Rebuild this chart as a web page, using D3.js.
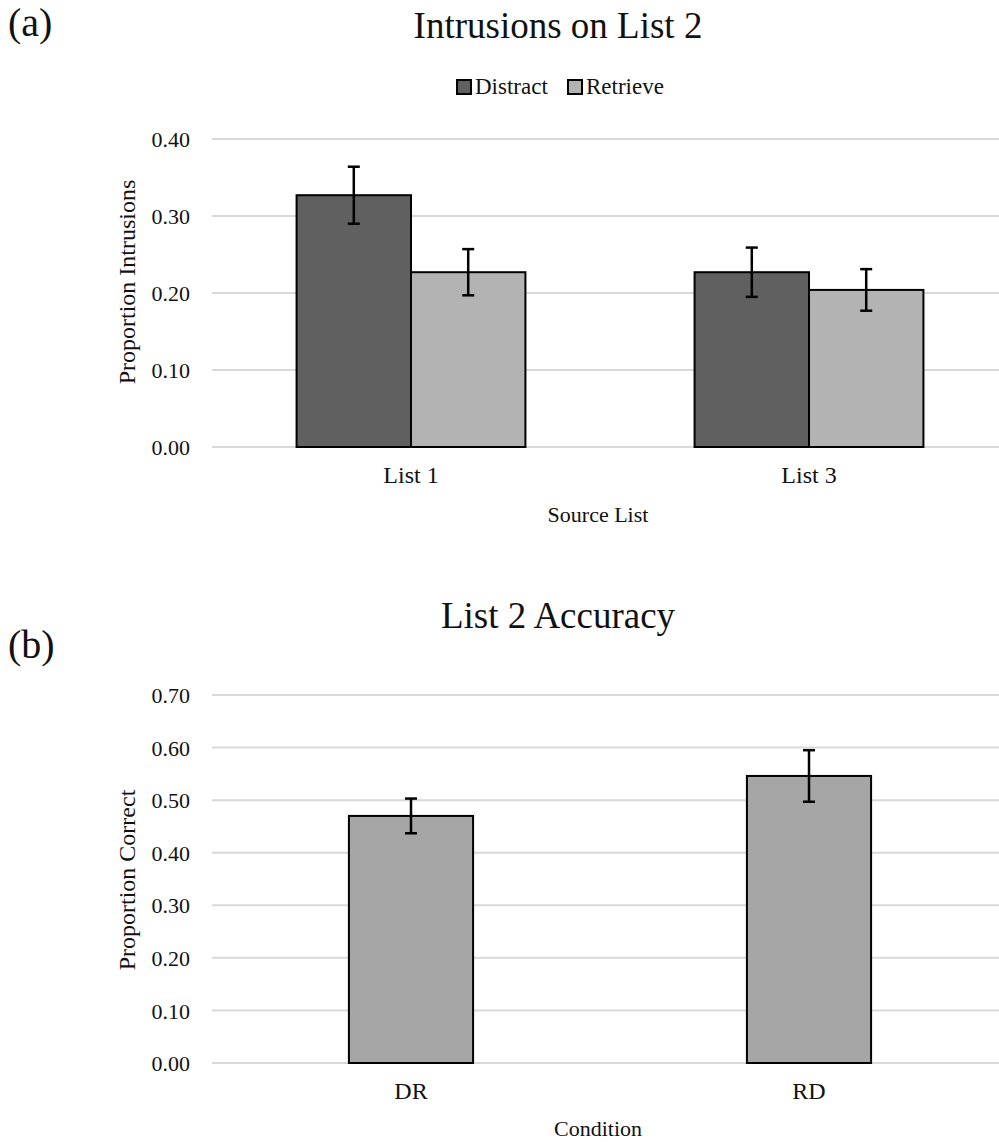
<!DOCTYPE html>
<html>
<head>
<meta charset="utf-8">
<script src="https://cdn.jsdelivr.net/npm/d3@7"></script>
<style>
  body { margin: 0; background: #fff; }
  svg text { font-family: "Liberation Serif", "Times New Roman", serif; fill: #111; }
  .tick text { font-size: 22px; }
</style>
</head>
<body>
<div id="chart"></div>
<script>
// panel (a)
const sourceLists = ['List 1', 'List 3'];
const seriesNames = ['Distract', 'Retrieve'];
const distractVals = [0.327, 0.227];
const distractErr = [0.037, 0.032];
const retrieveVals = [0.227, 0.204];
const retrieveErr = [0.030, 0.027];
const yTicksA = [0, 0.1, 0.2, 0.3, 0.4];

// panel (b)
const conditions = ['DR', 'RD'];
const accuracyVals = [0.470, 0.546];
const accuracyErr = [0.033, 0.049];
const yTicksB = [0, 0.1, 0.2, 0.3, 0.4, 0.5, 0.6, 0.7];

const colors = { Distract: '#606060', Retrieve: '#b3b3b3' };

const width = 999, height = 1142;
const left = 212, right = 1008;

const svg = d3.select('#chart').append('svg')
    .attr('width', width)
    .attr('height', height);

const drawYAxis = (y, ticks) => {
    // gridlines
    svg.append('g')
        .selectAll('line')
        .data(ticks)
        .enter()
        .append('line')
        .attr('x1', left)
        .attr('x2', right)
        .attr('y1', d => y(d))
        .attr('y2', d => y(d))
        .attr('stroke', '#d9d9d9')
        .attr('stroke-width', 2);

    let ax = svg.append('g')
        .attr('transform', 'translate(190,0)')
        .call(d3.axisLeft(y).tickValues(ticks).tickSize(0).tickPadding(0).tickFormat(d3.format('.2f')));
    ax.select('.domain').remove();
    ax.selectAll('text').attr('dy', '0.35em');
};

const drawErrors = (data) => {
    let g = svg.append('g');
    data.forEach(d => {
        g.append('line')
            .attr('x1', d.x).attr('x2', d.x)
            .attr('y1', d.hi).attr('y2', d.lo)
            .attr('stroke', '#000').attr('stroke-width', 2.5);
        [d.hi, d.lo].forEach(yy => {
            g.append('line')
                .attr('x1', d.x - 6).attr('x2', d.x + 6)
                .attr('y1', yy).attr('y2', yy)
                .attr('stroke', '#000').attr('stroke-width', 2.5);
        });
    });
};

const drawXAxis = (x, y0, labels) => {
    svg.append('g')
        .selectAll('text')
        .data(labels)
        .enter()
        .append('text')
        .attr('x', d => x(d) + x.bandwidth() / 2)
        .attr('y', y0 + 36)
        .attr('text-anchor', 'middle')
        .style('font-size', '24px')
        .text(d => d);
};

const label = (txt, x, y, size, anchor, rotate) => {
    let t = svg.append('text')
        .attr('x', x)
        .attr('y', y)
        .attr('text-anchor', anchor || 'middle')
        .style('font-size', size + 'px')
        .text(txt);
    if (rotate) t.attr('transform', 'rotate(-90,' + x + ',' + y + ')');
    return t;
};

// ---------- panel (a)
const yA = d3.scaleLinear().domain([0, 0.4]).range([447, 139]);
const xA = d3.scaleBand().domain(sourceLists).range([left, right])
    .paddingInner(0.425).paddingOuter(0.2125);
const xSeries = d3.scaleBand().domain(seriesNames).range([0, xA.bandwidth()]);

drawYAxis(yA, yTicksA);

const rowsA = [];
sourceLists.forEach((c, i) => {
    rowsA.push({ cat: c, s: 'Distract', v: distractVals[i], e: distractErr[i] });
    rowsA.push({ cat: c, s: 'Retrieve', v: retrieveVals[i], e: retrieveErr[i] });
});

svg.append('g')
    .selectAll('rect')
    .data(rowsA)
    .enter()
    .append('rect')
    .attr('x', d => xA(d.cat) + xSeries(d.s))
    .attr('y', d => yA(d.v))
    .attr('width', xSeries.bandwidth())
    .attr('height', d => yA(0) - yA(d.v))
    .attr('fill', d => colors[d.s])
    .attr('stroke', '#000')
    .attr('stroke-width', 2);

drawErrors(rowsA.map(d => ({
    x: xA(d.cat) + xSeries(d.s) + xSeries.bandwidth() / 2,
    hi: yA(d.v + d.e),
    lo: yA(d.v - d.e)
})));

drawXAxis(xA, 447, sourceLists);

label('Intrusions on List 2', 558, 38, 37);
label('(a)', 8, 36, 40, 'start');
label('Source List', 598, 522, 22);
label('Proportion Intrusions', 135, 282, 24, 'middle', true);

// legend
const legend = svg.append('g')
    .selectAll('g')
    .data(seriesNames)
    .enter()
    .append('g')
    .attr('transform', (d, i) => 'translate(' + (457 + i * 111) + ',80)');
legend.append('rect')
    .attr('width', 14).attr('height', 14)
    .attr('fill', d => colors[d])
    .attr('stroke', '#000').attr('stroke-width', 2);
legend.append('text')
    .attr('x', 18).attr('y', 14)
    .style('font-size', '23px')
    .text(d => d);

// ---------- panel (b)
const yB = d3.scaleLinear().domain([0, 0.7]).range([1063, 695]);
const xB = d3.scaleBand().domain(conditions).range([left, right])
    .paddingInner(0.688).paddingOuter(0.344);

drawYAxis(yB, yTicksB);

svg.append('g')
    .selectAll('rect')
    .data(conditions)
    .enter()
    .append('rect')
    .attr('x', d => xB(d))
    .attr('y', (d, i) => yB(accuracyVals[i]))
    .attr('width', xB.bandwidth())
    .attr('height', (d, i) => yB(0) - yB(accuracyVals[i]))
    .attr('fill', '#a6a6a6')
    .attr('stroke', '#000')
    .attr('stroke-width', 2);

drawErrors(conditions.map((c, i) => ({
    x: xB(c) + xB.bandwidth() / 2,
    hi: yB(accuracyVals[i] + accuracyErr[i]),
    lo: yB(accuracyVals[i] - accuracyErr[i])
})));

drawXAxis(xB, 1063, conditions);

label('List 2 Accuracy', 558, 628, 37);
label('(b)', 8, 658, 40, 'start');
label('Condition', 598, 1136, 22);
label('Proportion Correct', 135, 880, 24, 'middle', true);
</script>
</body>
</html>
